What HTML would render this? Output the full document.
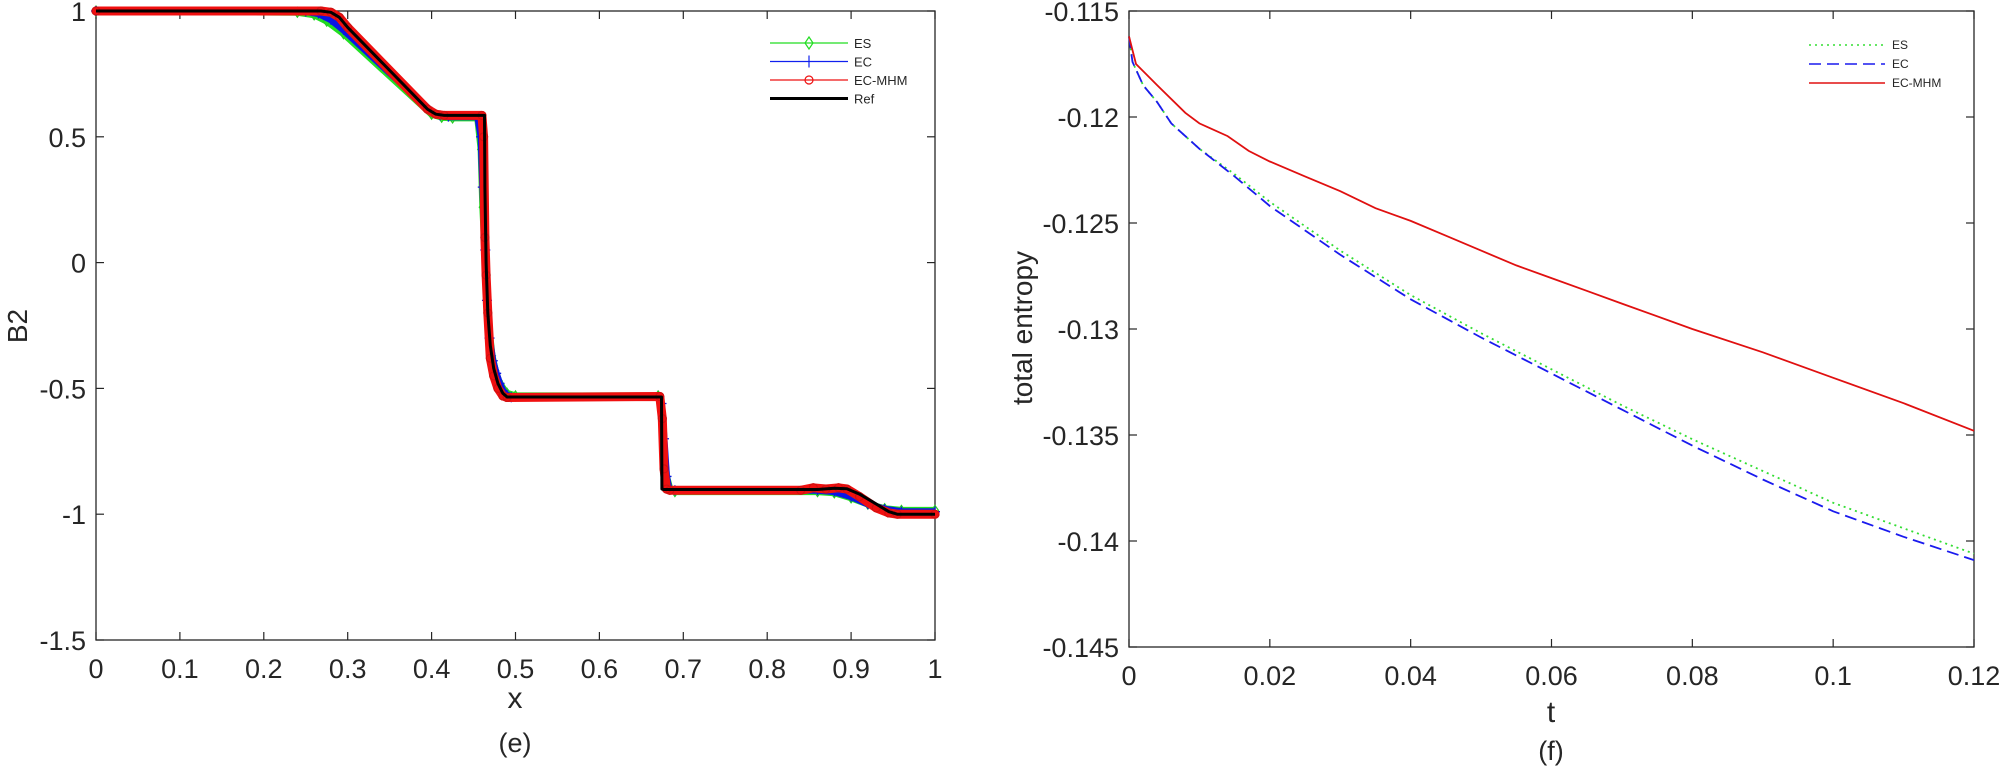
<!DOCTYPE html>
<html><head><meta charset="utf-8"><style>
html,body{margin:0;padding:0;background:#fff;}
svg{display:block;font-family:"Liberation Sans",Arial,sans-serif;}
</style></head><body>
<svg id="fig" width="2000" height="768" viewBox="0 0 2000 768"></svg>
<script>
// ---------- Left chart (e) data ----------
const refX=[0,0.268,0.28,0.29,0.30,0.395,0.405,0.415,0.463,0.4635,0.465,0.467,0.47,0.474,0.479,0.485,0.49,0.674,0.6745,0.677,0.86,0.88,0.895,0.91,0.93,0.945,0.955,1];
const refY=[1,1,0.995,0.975,0.935,0.61,0.59,0.585,0.585,0.3,0.0,-0.2,-0.33,-0.42,-0.48,-0.52,-0.534,-0.534,-0.9,-0.902,-0.902,-0.897,-0.899,-0.92,-0.96,-0.99,-1,-1];
const mhmX=[0,0.268,0.28,0.29,0.30,0.395,0.405,0.415,0.46,0.462,0.4635,0.465,0.467,0.47,0.474,0.479,0.485,0.49,0.672,0.675,0.677,0.68,0.684,0.84,0.855,0.87,0.885,0.895,0.91,0.93,0.945,0.955,1];
const mhmY=[1,1,0.995,0.975,0.935,0.61,0.59,0.585,0.585,0.5,0.1,-0.05,-0.2,-0.38,-0.45,-0.5,-0.53,-0.536,-0.532,-0.62,-0.82,-0.9,-0.905,-0.905,-0.895,-0.9,-0.895,-0.9,-0.93,-0.975,-0.995,-1,-1];
const ecX=[0,0.25,0.265,0.28,0.295,0.40,0.41,0.42,0.455,0.459,0.461,0.464,0.466,0.469,0.473,0.477,0.481,0.485,0.489,0.495,0.67,0.674,0.677,0.68,0.683,0.69,0.86,0.88,0.9,0.92,0.94,0.96,1];
const ecY=[1,0.998,0.99,0.965,0.925,0.6,0.585,0.58,0.58,0.5,0.3,0.05,-0.15,-0.3,-0.39,-0.44,-0.48,-0.51,-0.525,-0.535,-0.535,-0.56,-0.7,-0.85,-0.9,-0.905,-0.905,-0.91,-0.93,-0.96,-0.98,-0.99,-0.99];
const esX=[0,0.24,0.26,0.275,0.295,0.40,0.412,0.425,0.455,0.459,0.461,0.465,0.468,0.472,0.476,0.48,0.485,0.49,0.5,0.67,0.673,0.676,0.68,0.684,0.69,0.86,0.88,0.9,0.92,0.94,0.96,1];
const esY=[1,0.995,0.985,0.96,0.91,0.59,0.578,0.575,0.575,0.45,0.22,-0.05,-0.25,-0.37,-0.43,-0.47,-0.5,-0.52,-0.53,-0.53,-0.56,-0.7,-0.85,-0.9,-0.91,-0.91,-0.915,-0.935,-0.96,-0.978,-0.985,-0.985];
const leftXTicks=[0,0.1,0.2,0.3,0.4,0.5,0.6,0.7,0.8,0.9,1];
const leftXLabels=["0","0.1","0.2","0.3","0.4","0.5","0.6","0.7","0.8","0.9","1"];
const leftYTicks=[1,0.5,0,-0.5,-1,-1.5];
const leftYLabels=["1","0.5","0","-0.5","-1","-1.5"];
// ---------- Right chart (f) data ----------
const tRed=[0,0.001,0.004,0.008,0.01,0.014,0.017,0.02,0.025,0.03,0.035,0.04,0.045,0.05,0.055,0.06,0.065,0.07,0.08,0.09,0.1,0.11,0.12];
const redVals=[-0.1162,-0.1175,-0.1185,-0.1198,-0.1203,-0.1209,-0.1216,-0.1221,-0.1228,-0.1235,-0.1243,-0.1249,-0.1256,-0.1263,-0.1270,-0.1276,-0.1282,-0.1288,-0.1300,-0.1311,-0.1323,-0.1335,-0.1348];
const tBlue=[0,0.0005,0.002,0.004,0.006,0.008,0.01,0.015,0.02,0.03,0.04,0.05,0.06,0.07,0.08,0.09,0.1,0.11,0.12];
const blueVals=[-0.1162,-0.1174,-0.1185,-0.1193,-0.1203,-0.1209,-0.1215,-0.1228,-0.1242,-0.1265,-0.1286,-0.1304,-0.1321,-0.1338,-0.1355,-0.1371,-0.1386,-0.1398,-0.1409];
const greenVals=[-0.1162,-0.1174,-0.1185,-0.1193,-0.1203,-0.1209,-0.1215,-0.1227,-0.1240,-0.1263,-0.1284,-0.1302,-0.1319,-0.1336,-0.1352,-0.1367,-0.1382,-0.1394,-0.1406];
const rightXTicks=[0,0.02,0.04,0.06,0.08,0.1,0.12];
const rightXLabels=["0","0.02","0.04","0.06","0.08","0.1","0.12"];
const rightYTicks=[-0.115,-0.12,-0.125,-0.13,-0.135,-0.14,-0.145];
const rightYLabels=["-0.115","-0.12","-0.125","-0.13","-0.135","-0.14","-0.145"];

const NS="http://www.w3.org/2000/svg";
const svg=document.getElementById('fig');
function mk(tag,attrs,parent){const e=document.createElementNS(NS,tag);for(const k in attrs)e.setAttribute(k,attrs[k]);(parent||svg).appendChild(e);return e;}
function txt(s,attrs,parent){const e=mk('text',attrs,parent);e.textContent=s;return e;}

const L={x0:96,x1:935,y0:11,y1:640,xmin:0,xmax:1,ymin:-1.5,ymax:1};
const R={x0:1129,x1:1974,y0:11,y1:647,xmin:0,xmax:0.12,ymin:-0.145,ymax:-0.115};
function sx(A,v){return A.x0+(v-A.xmin)/(A.xmax-A.xmin)*(A.x1-A.x0);}
function sy(A,v){return A.y1-(v-A.ymin)/(A.ymax-A.ymin)*(A.y1-A.y0);}
function pathD(A,xs,ys){return xs.map((x,i)=>(i?'L':'M')+sx(A,x).toFixed(1)+' '+sy(A,ys[i]).toFixed(1)).join(' ');}

function axes(A,xt,xl,yt,yl,name){
  const g=mk('g',{});
  
  
  const box=mk('rect',{x:A.x0,y:A.y0,width:A.x1-A.x0,height:A.y1-A.y0,fill:'none',stroke:'#262626','stroke-width':1.3},g);
  
  
  xt.forEach((v,i)=>{const x=sx(A,v);
    mk('line',{x1:x,x2:x,y1:A.y1,y2:A.y1-8,stroke:'#262626','stroke-width':1.2},g);
    mk('line',{x1:x,x2:x,y1:A.y0,y2:A.y0+8,stroke:'#262626','stroke-width':1.2},g);
    const t=txt(xl[i],{x:x,y:A.y1+38,'font-size':27,'text-anchor':'middle',fill:'#262626'},g);
    
    
  });
  yt.forEach((v,i)=>{const y=sy(A,v);
    mk('line',{x1:A.x0,x2:A.x0+8,y1:y,y2:y,stroke:'#262626','stroke-width':1.2},g);
    mk('line',{x1:A.x1,x2:A.x1-8,y1:y,y2:y,stroke:'#262626','stroke-width':1.2},g);
    const t=txt(yl[i],{x:A.x0-10,y:y+10,'font-size':27,'text-anchor':'end',fill:'#262626'},g);
    
    
  });
}
axes(L,leftXTicks,leftXLabels,leftYTicks,leftYLabels,'left');
axes(R,rightXTicks,rightXLabels,rightYTicks,rightYLabels,'right');

let e;
e=txt('B2',{x:0,y:0,'font-size':28,'text-anchor':'middle',fill:'#262626',transform:'translate(27,326) rotate(-90)'});

e=txt('x',{x:515,y:708,'font-size':30,'text-anchor':'middle',fill:'#262626'});

e=txt('(e)',{x:515,y:752,'font-size':27,'text-anchor':'middle',fill:'#262626'});

e=txt('total entropy',{x:0,y:0,'font-size':28,'text-anchor':'middle',fill:'#262626',transform:'translate(1032,328) rotate(-90)'});

e=txt('t',{x:1551,y:722,'font-size':30,'text-anchor':'middle',fill:'#262626'});

e=txt('(f)',{x:1551,y:760,'font-size':27,'text-anchor':'middle',fill:'#262626'});


const lg=mk('g',{});


let p;
p=mk('path',{d:pathD(L,esX,esY),fill:'none',stroke:'#22e022','stroke-width':7,'stroke-linejoin':'round'},lg);

esX.forEach((x,i)=>{const cx=sx(L,x),cy=sy(L,esY[i]);
  const m=mk('path',{d:`M${cx} ${cy-5}L${cx+3.5} ${cy}L${cx} ${cy+5}L${cx-3.5} ${cy}Z`,fill:'none',stroke:'#22cc22','stroke-width':1.2},lg);
  });
p=mk('path',{d:pathD(L,ecX,ecY),fill:'none',stroke:'#0a14e6','stroke-width':7,'stroke-linejoin':'round'},lg);

ecX.forEach((x,i)=>{const cx=sx(L,x),cy=sy(L,ecY[i]);
  const m=mk('path',{d:`M${cx-5} ${cy}H${cx+5}M${cx} ${cy-5}V${cy+5}`,stroke:'#0a14e6','stroke-width':1.3},lg);
  });
p=mk('path',{d:pathD(L,mhmX,mhmY),fill:'none',stroke:'#f01010','stroke-width':9,'stroke-linejoin':'round','stroke-linecap':'round'},lg);

mhmX.forEach((x,i)=>{const c=mk('circle',{cx:sx(L,x),cy:sy(L,mhmY[i]),r:4,fill:'none',stroke:'#d01010','stroke-width':1.2},lg);
  });
p=mk('path',{d:pathD(L,refX,refY),fill:'none',stroke:'#000','stroke-width':3,'stroke-linejoin':'round'},lg);


const legL=mk('g',{});


[['ES','#22dd22','d'],['EC','#1020ee','p'],['EC-MHM','#ee1010','o'],['Ref','#000','n']].forEach((r,i)=>{
  const y=43+i*18.5;
  const item=mk('g',{},legL);
  
  
  mk('line',{x1:770,x2:848,y1:y,y2:y,stroke:r[1],'stroke-width':r[2]=='n'?3:1.3},item);
  if(r[2]=='d')mk('path',{d:`M809 ${y-6}L813 ${y}L809 ${y+6}L805 ${y}Z`,fill:'none',stroke:r[1],'stroke-width':1.2},item);
  if(r[2]=='p')mk('path',{d:`M809 ${y-6}V${y+6}`,stroke:r[1],'stroke-width':1.2},item);
  if(r[2]=='o')mk('circle',{cx:809,cy:y,r:4,fill:'none',stroke:r[1],'stroke-width':1.2},item);
  txt(r[0],{x:854,y:y+5,'font-size':13,fill:'#262626'},item);
});

const rg=mk('g',{});


p=mk('path',{d:pathD(R,tBlue,greenVals),fill:'none',stroke:'#33dd33','stroke-width':1.8,'stroke-dasharray':'2 4'},rg);

p=mk('path',{d:pathD(R,tBlue,blueVals),fill:'none',stroke:'#1a1aee','stroke-width':1.8,'stroke-dasharray':'12 6'},rg);

p=mk('path',{d:pathD(R,tRed,redVals),fill:'none',stroke:'#e01010','stroke-width':1.8},rg);


const legR=mk('g',{});


[['ES','#33dd33','2 4'],['EC','#1a1aee','12 6'],['EC-MHM','#e01010','']].forEach((r,i)=>{
  const y=45+i*19;
  const item=mk('g',{},legR);
  
  
  const a={x1:1809,x2:1885,y1:y,y2:y,stroke:r[1],'stroke-width':1.6};
  if(r[2])a['stroke-dasharray']=r[2];
  mk('line',a,item);
  txt(r[0],{x:1892,y:y+4,'font-size':12,fill:'#262626'},item);
});
</script>
</body></html>
